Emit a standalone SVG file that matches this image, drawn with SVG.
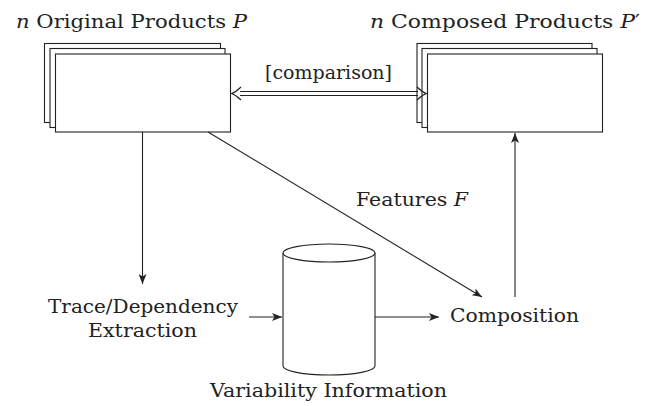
<svg xmlns="http://www.w3.org/2000/svg" width="646" height="406" viewBox="0 0 646 406">
  <style>
    .lbl { font-family: "DejaVu Serif", "Liberation Serif", serif; font-size: 18px; fill: #222; }
    .m { font-style: italic; }
    .box { fill: #fff; stroke: #222; stroke-width: 1.1; }
    .edge { fill: none; stroke: #222; stroke-width: 1.1; }
  </style>
  <defs>
    <marker id="tip" viewBox="0 0 10 8" refX="10" refY="4" markerWidth="10" markerHeight="8" markerUnits="userSpaceOnUse" orient="auto">
      <path d="M0,0 L10,4 L0,8 L2.5,4 Z" fill="#222"/>
    </marker>
  </defs>

  <!-- stack of original products -->
  <g id="original-products">
    <rect class="box" x="44.5" y="43.5" width="176" height="79"/>
    <rect class="box" x="50" y="48.5" width="175" height="79"/>
    <rect class="box" x="55.5" y="54" width="175" height="78"/>
    <text class="lbl" x="16" y="28" textLength="231" lengthAdjust="spacingAndGlyphs"><tspan class="m">n</tspan> Original Products <tspan class="m">P</tspan></text>
  </g>

  <!-- stack of composed products -->
  <g id="composed-products">
    <rect class="box" x="417" y="43.5" width="175" height="79"/>
    <rect class="box" x="422" y="48.5" width="175" height="79"/>
    <rect class="box" x="427.5" y="54" width="175" height="78"/>
    <text class="lbl" x="370" y="28" textLength="270" lengthAdjust="spacingAndGlyphs"><tspan class="m">n</tspan> Composed Products <tspan class="m">P</tspan>′</text>
  </g>

  <g id="trace-extraction">
    <text class="lbl" x="48" y="313" textLength="190" lengthAdjust="spacingAndGlyphs">Trace/Dependency</text>
    <text class="lbl" x="88" y="337" textLength="109" lengthAdjust="spacingAndGlyphs">Extraction</text>
  </g>

  <!-- variability database -->
  <g id="variability-information">
    <path class="box" d="M283,253 L283,366 A46,9 0 0 0 375,366 L375,253"/>
    <ellipse class="box" cx="329" cy="253" rx="46" ry="9"/>
    <text class="lbl" x="210" y="397" textLength="237" lengthAdjust="spacingAndGlyphs">Variability Information</text>
  </g>

  <g id="composition">
    <text class="lbl" x="450" y="322" textLength="129" lengthAdjust="spacingAndGlyphs">Composition</text>
  </g>

  <g id="connectors">
    <!-- double comparison link -->
    <line class="edge" x1="240" y1="91.5" x2="418" y2="91.5"/>
    <line class="edge" x1="240" y1="95.5" x2="418" y2="95.5"/>
    <path class="edge" d="M241,87 Q236,92 231.5,93.5 Q236,95 241,100"/>
    <path class="edge" d="M417,87 Q422,92 426.5,93.5 Q422,95 417,100"/>
    <text class="lbl" x="265" y="79" textLength="127" lengthAdjust="spacingAndGlyphs">[comparison]</text>

    <line class="edge" x1="142.5" y1="132" x2="142.5" y2="284" marker-end="url(#tip)"/>
    <line class="edge" x1="208" y1="132" x2="482" y2="297" marker-end="url(#tip)"/>
    <text class="lbl" x="356" y="206" textLength="112" lengthAdjust="spacingAndGlyphs">Features <tspan class="m">F</tspan></text>
    <line class="edge" x1="249" y1="317" x2="282" y2="317" marker-end="url(#tip)"/>
    <line class="edge" x1="375" y1="317" x2="439" y2="317" marker-end="url(#tip)"/>
    <line class="edge" x1="515" y1="297" x2="515" y2="133" marker-end="url(#tip)"/>
  </g>
</svg>
